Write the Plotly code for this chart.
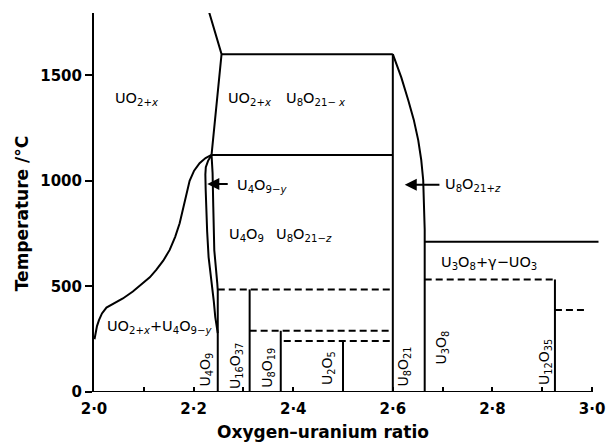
import plotly.graph_objects as go

# ---------------- data ----------------
# UO2+x / (UO2+x + U4O9-y) solvus
solvus_x = [2.001, 2.003, 2.006, 2.010, 2.016, 2.025, 2.040, 2.058, 2.078, 2.098, 2.112, 2.125, 2.139,
            2.152, 2.163, 2.172, 2.178, 2.184, 2.192, 2.201, 2.212, 2.224, 2.236]
solvus_y = [250, 280, 312, 340, 372, 400, 420, 443, 476, 514, 543, 578, 622,
            673, 735, 799, 860, 925, 1000, 1048, 1084, 1108, 1123]
# left edge of U4O9-y field
u4o9y_left_x = [2.236, 2.229, 2.2245, 2.2236, 2.2242, 2.2250, 2.2272, 2.2301, 2.2335, 2.2369, 2.2405, 2.2435, 2.2485]
u4o9y_left_y = [1123, 1095, 1065, 1030, 960, 878, 760, 639, 575, 516, 430, 355, 279]
# right edge of U4O9-y field (down to U4O9 line)
u4o9y_right_x = [2.236, 2.2381, 2.2395, 2.2415, 2.2475, 2.2485, 2.2485]
u4o9y_right_y = [1123, 1038, 878, 672, 516, 480, 0]
# UO2+x upper boundary
upper_x = [2.231, 2.2561, 2.236]
upper_y = [1800, 1600, 1123]
# U8O21+z boundary
u8o21z_x = [2.6, 2.617, 2.631, 2.642, 2.651, 2.657, 2.661, 2.663, 2.664, 2.664]
u8o21z_y = [1600, 1490, 1382, 1290, 1193, 1100, 1004, 890, 768, 0]

# solid horizontal segments: (x0, x1, y)
solid_h = [(2.2561, 2.6, 1600), (2.236, 2.6, 1123), (2.664, 3.013, 712)]
# solid vertical compound lines: (x, top)
comp_x = [2.3125, 2.375, 2.5, 2.6, 2.9255]
comp_top = [486, 290, 242, 1600, 533]
# dashed horizontal segments: (x0, x1, y)
dashed_h = [(2.2485, 2.6, 486), (2.3125, 2.6, 290), (2.381, 2.6, 242),
            (2.664, 2.9255, 533), (2.9255, 2.99, 388)]

# field labels: (text, x_left, y)
field_labels = [
    ("UO<sub>2+<i>x</i></sub>", 2.038, 1389),
    ("UO<sub>2+<i>x</i></sub>", 2.2655, 1389),
    ("U<sub>8</sub>O<sub>21− <i>x</i></sub>", 2.381, 1389),
    ("U<sub>4</sub>O<sub>9−<i>y</i></sub>", 2.2834, 975),
    ("U<sub>4</sub>O<sub>9</sub>", 2.2675, 744),
    ("U<sub>8</sub>O<sub>21−<i>z</i></sub>", 2.361, 744),
    ("U<sub>8</sub>O<sub>21+<i>z</i></sub>", 2.7006, 981),
    ("UO<sub>2+<i>x</i></sub>+U<sub>4</sub>O<sub>9−<i>y</i></sub>", 2.022, 308),
    ("U<sub>3</sub>O<sub>8</sub>+γ−UO<sub>3</sub>", 2.692, 609),
]
# compound labels (rotated): (text, x_center, y_center)
compound_labels = [
    ("U<sub>4</sub>O<sub>9</sub>", 2.2255, 108),
    ("U<sub>16</sub>O<sub>37</sub>", 2.2864, 122),
    ("U<sub>8</sub>O<sub>19</sub>", 2.3503, 117),
    ("U<sub>2</sub>O<sub>5</sub>", 2.471, 112),
    ("U<sub>8</sub>O<sub>21</sub>", 2.6228, 122),
    ("U<sub>3</sub>O<sub>8</sub>", 2.6986, 210),
    ("U<sub>12</sub>O<sub>35</sub>", 2.9052, 141),
]
# arrows: (head_x, head_y, tail_x, tail_y)
arrows = [(2.2275, 985, 2.2715, 985), (2.624, 981, 2.6966, 981)]

x_tickvals = [2.0, 2.1, 2.2, 2.3, 2.4, 2.5, 2.6, 2.7, 2.8, 2.9, 3.0]
x_ticktext = ["2·0", "", "2·2", "", "2·4", "", "2·6", "", "2·8", "", "3·0"]
y_tickvals = [0, 500, 1000, 1500]

# ---------------- figure ----------------
BLACK = "black"
LW = 2
fig = go.Figure()

def add_line(xs, ys, dash="solid"):
    fig.add_trace(go.Scatter(x=xs, y=ys, mode="lines",
                             line=dict(color=BLACK, width=LW, dash=dash),
                             hoverinfo="skip", showlegend=False))

add_line(solvus_x, solvus_y)
add_line(u4o9y_left_x, u4o9y_left_y)
add_line(u4o9y_right_x, u4o9y_right_y)
add_line(upper_x, upper_y)
add_line(u8o21z_x, u8o21z_y)

for x0, x1, y in solid_h:
    add_line([x0, x1], [y, y])
for x, top in zip(comp_x, comp_top):
    add_line([x, x], [0, top])
for x0, x1, y in dashed_h:
    add_line([x0, x1], [y, y], dash="7px,4px")

FONT = "DejaVu Sans"
annotations = []
for txt, x, y in field_labels:
    annotations.append(dict(text=txt, x=x, y=y, xref="x", yref="y", xanchor="left", yanchor="middle",
                            showarrow=False, font=dict(family=FONT, size=14.5, color=BLACK)))
for txt, x, y in compound_labels:
    annotations.append(dict(text=txt, x=x, y=y, xref="x", yref="y", xanchor="center", yanchor="middle",
                            textangle=-90, showarrow=False, font=dict(family=FONT, size=14, color=BLACK)))
for hx, hy, tx, ty in arrows:
    annotations.append(dict(text="", x=hx, y=hy, ax=tx, ay=ty, xref="x", yref="y", axref="x", ayref="y",
                            showarrow=True, arrowhead=2, arrowsize=1.2, arrowwidth=2, arrowcolor=BLACK))
# axis titles
annotations.append(dict(text="Oxygen–uranium ratio", x=2.46, y=0, xref="x", yref="y", yshift=-40,
                        xanchor="center", yanchor="middle", showarrow=False,
                        font=dict(family=FONT, size=17, color=BLACK, weight="bold")))
annotations.append(dict(text="Temperature /°C", x=0, y=842, xref="paper", yref="y", xshift=-72,
                        xanchor="center", yanchor="middle", textangle=-90, showarrow=False,
                        font=dict(family=FONT, size=17, color=BLACK, weight="bold")))

shapes = [dict(type="line", xref="x", yref="y", x0=2.0, x1=3.0, y0=0, y1=0,
               line=dict(color=BLACK, width=2))]

fig.update_layout(
    width=613, height=443,
    margin=dict(l=94, r=8, t=13, b=51),
    paper_bgcolor="white", plot_bgcolor="white",
    annotations=annotations, shapes=shapes,
    xaxis=dict(range=[2.0, 3.02], showgrid=False, zeroline=False, showline=False,
               tickvals=x_tickvals, ticktext=x_ticktext, ticks="inside", ticklen=5, tickwidth=2,
               tickcolor=BLACK, ticklabelstandoff=6,
               tickfont=dict(family=FONT, size=15, color=BLACK, weight="bold")),
    yaxis=dict(range=[0, 1795], showgrid=False, zeroline=False, showline=True, linecolor=BLACK, linewidth=2,
               tickvals=y_tickvals, ticks="outside", ticklen=7, tickwidth=2, tickcolor=BLACK,
               tickfont=dict(family=FONT, size=15, color=BLACK, weight="bold")),
)

fig.write_html("out.html", config={"displayModeBar": False},
               post_script="document.body.style.margin='0';document.body.style.overflow='hidden';")
